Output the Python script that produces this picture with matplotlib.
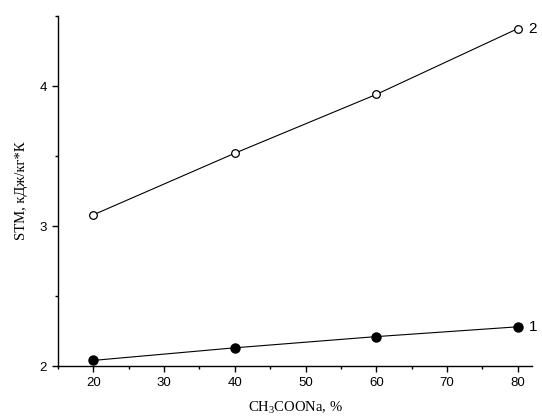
import matplotlib
matplotlib.use("Agg")
import matplotlib.pyplot as plt
from matplotlib.ticker import MultipleLocator

conc = [20, 40, 60, 80]
stm_1 = [2.04, 2.13, 2.21, 2.28]
stm_2 = [3.08, 3.52, 3.94, 4.41]

plt.rcParams['font.family'] = ['Liberation Sans', 'DejaVu Sans']
plt.rcParams['mathtext.fontset'] = 'custom'
plt.rcParams['mathtext.rm'] = 'Liberation Serif'
plt.rcParams['mathtext.it'] = 'Liberation Serif:italic'

fig = plt.figure(figsize=(5.42, 4.17), dpi=100)
ax = fig.add_axes([0.107, 0.1223, 0.8745, 0.8393])

ax.plot(conc, stm_2, color='k', lw=0.8, marker='o', ms=5.5,
        mfc='white', mec='k', mew=0.9)
ax.plot(conc, stm_1, color='k', lw=0.8, marker='o', ms=6.5,
        mfc='k', mec='k')

ax.text(conc[-1] + 1.5, stm_2[-1], "2", fontsize=11, va='center', ha='left')
ax.text(conc[-1] + 1.5, stm_1[-1], "1", fontsize=11, va='center', ha='left')

ax.set_xlim(15, 82)
ax.set_ylim(2, 4.5)
ax.xaxis.set_major_locator(MultipleLocator(10))
ax.xaxis.set_minor_locator(MultipleLocator(5))
ax.yaxis.set_major_locator(MultipleLocator(1))
ax.yaxis.set_minor_locator(MultipleLocator(0.5))

for s in ['top', 'right']:
    ax.spines[s].set_visible(False)
for s in ['left', 'bottom']:
    ax.spines[s].set_linewidth(1.0)
ax.tick_params(which='major', direction='out', length=4, width=1, labelsize=9.5, pad=4)
ax.tick_params(which='minor', direction='out', length=2.5, width=1)

ax.set_xlabel(r"CH$_3$COONa, %", fontfamily='Liberation Serif', fontsize=10.5, labelpad=8)
ax.set_ylabel("STM, кДж/кг*К", fontfamily='Liberation Serif', fontsize=10.5, labelpad=8)

fig.savefig("out.png", dpi=100)
